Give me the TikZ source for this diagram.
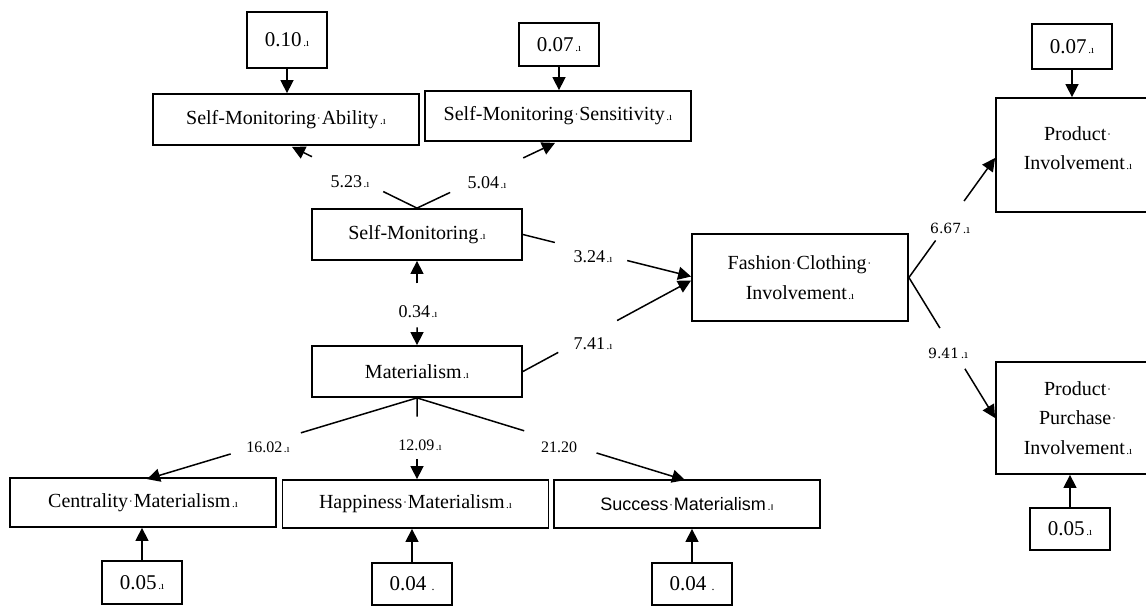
\documentclass[tikz,border=0pt]{standalone}
\usepackage{fontspec}
\setmainfont{Liberation Serif}
\newfontfamily\sansfam{Liberation Sans}
\newfontfamily\wideserif{DejaVu Serif}
\usetikzlibrary{arrows.meta,calc}
\newcommand\pmk{{\fontsize{5.5pt}{5.5pt}\selectfont\kern0.8pt.ı}}
\newcommand\wsp{\makebox[2.8pt]{\raisebox{1pt}{\fontsize{6pt}{6pt}\selectfont·}}}

\begin{document}
\begin{tikzpicture}
  [x=0.5pt,y=-0.5pt,line width=0.75pt,
   box/.style={draw,line width=0.9pt,minimum width=133pt,minimum height=25pt,inner sep=0pt,
     align=center,font=\fontsize{10}{14.8}\selectfont},
   err/.style={draw,line width=0.9pt,minimum width=40pt,minimum height=21.5pt,inner sep=0pt,
     font=\fontsize{10.5}{12}\selectfont},
   arr/.style={-{Triangle[length=6.5pt,width=6.5pt]}},
   lbl/.style={inner sep=0pt,font=\fontsize{9}{10}\selectfont},
   lblw/.style={inner sep=0pt,font=\wideserif\fontsize{7}{8}\selectfont},
   lbls/.style={inner sep=0pt,font=\fontsize{8}{9}\selectfont}
  ]
  \useasboundingbox (0,0) rectangle (1146,607);
  \fill[white] (0,0) rectangle (1146,607);

  % latent boxes
  \node[box,minimum height=25.5pt] (sma) at (286,119.5) {Self-Monitoring\wsp Ability\pmk};
  \node[box] (sms) at (558,116) {Self-Monitoring\wsp Sensitivity\pmk};
  \node[box,minimum width=105pt,minimum height=25.5pt] (sm) at (417,234.5) {Self-Monitoring\pmk};
  \node[box,minimum width=105pt,minimum height=25.5pt] (mat) at (417,371.5) {Materialism\pmk};
  \node[box,minimum width=108pt,minimum height=43.5pt] (fci) at (800,277.5)
    {Fashion\wsp Clothing\wsp\\Involvement\pmk};
  \node[box,minimum width=82pt,minimum height=57pt,
    label={[box,draw=none,minimum size=0pt,yshift=3.5pt]center:{Product\wsp\\Involvement\pmk}}]
    (pi) at (1078,155) {};
  \node[box,minimum width=82pt,minimum height=56pt] (ppi) at (1078,418)
    {Product\wsp\\Purchase\wsp\\Involvement\pmk};
  \node[box,minimum height=24.5pt] (cen) at (143,502.5) {Centrality\wsp Materialism\pmk};
  \node[box,minimum height=24pt] (hap) at (415.5,504) {Happiness\wsp Materialism\pmk};
  \node[box,minimum height=24pt,font=\sansfam\fontsize{9}{11}\selectfont] (suc) at (687,504)
    {Success\wsp Materialism\pmk};

  % error terms
  \node[err,minimum height=28pt] (e10) at (287,40) {0.10\pmk};
  \node[err] (e07a) at (559,44.5) {0.07\pmk};
  \node[err,minimum height=22.5pt] (e07b) at (1072,46.5) {0.07\pmk};
  \node[err,minimum height=21pt] (e05b) at (1070,529) {0.05\pmk};
  \node[err] (e05a) at (142,582.5) {0.05\pmk};
  \node[err,minimum height=21pt] (e04a) at (412,584) {0.04 {\fontsize{6pt}{6pt}\selectfont.}};
  \node[err,minimum height=21pt] (e04b) at (692,584) {0.04 {\fontsize{6pt}{6pt}\selectfont.}};

  \foreach \e/\v in {e10/sma,e07a/sms,e07b/pi}
    \draw[arr] (\e.south) -- (\e.south |- \v.north);
  \foreach \e/\v in {e05b/ppi,e05a/cen,e04a/hap,e04b/suc}
    \draw[arr] (\e.north) -- (\e.north |- \v.south);

  % arrow ends
  \coordinate (smaEnd) at ($(sma.south)+(6,1)$);
  \coordinate (smsEnd) at ($(sms.south)+(-3,1)$);
  \coordinate (fciA) at ($(fci.west)+(0,-1)$);
  \coordinate (fciB) at ($(fci.west)+(0,3)$);
  \coordinate (piEnd) at ($(pi.west)+(0,3)$);
  \coordinate (ppiEnd) at (ppi.west);
  \coordinate (cenEnd) at ($(cen.north)+(4,2)$);
  \coordinate (hapEnd) at (mat.south |- hap.north);
  \coordinate (sucEnd) at ($(suc.north)+(-2,1)$);

  % paths, broken where the estimate sits
  \foreach \a/\b/\s/\t/\st in {sm.north/smaEnd/0.27/0.84/-, sm.north/smsEnd/0.24/0.77/-,
      sm.east/fciA/0.19/0.62/-, mat.east/fciB/0.21/0.56/-, sm.south/mat.north/0.267/0.79/arr,
      fci.east/piEnd/0.31/0.64/-, fci.east/ppiEnd/0.36/0.65/-,
      mat.south/cenEnd/0.43/0.69/-, mat.south/hapEnd/0.23/0.75/-, mat.south/sucEnd/0.40/0.67/-}
    {\draw[\st] ($(\a)!\s!(\b)$) -- (\a);
     \draw[arr] ($(\a)!\t!(\b)$) -- (\b);}

  % estimates
  \node[lbl] (l523) at (350,182) {5.23\pmk};
  \node[lbl] (l504) at (487,183) {5.04\pmk};
  \node[lbl] (l324) at (593,257) {3.24\pmk};
  \node[lbl] (l741) at (593,344) {7.41\pmk};
  \node[lbl] (l034) at (418,312) {0.34\pmk};
  \node[lblw] (l667) at (950,228) {6.67\pmk};
  \node[lblw] (l941) at (948,353) {9.41\pmk};
  \node[lbls] (l1602) at (268,447) {16.02\pmk};
  \node[lbls] (l1209) at (420,445) {12.09\pmk};
  \node[lbls] (l2120) at (559,447) {21.20};
\end{tikzpicture}
\end{document}
